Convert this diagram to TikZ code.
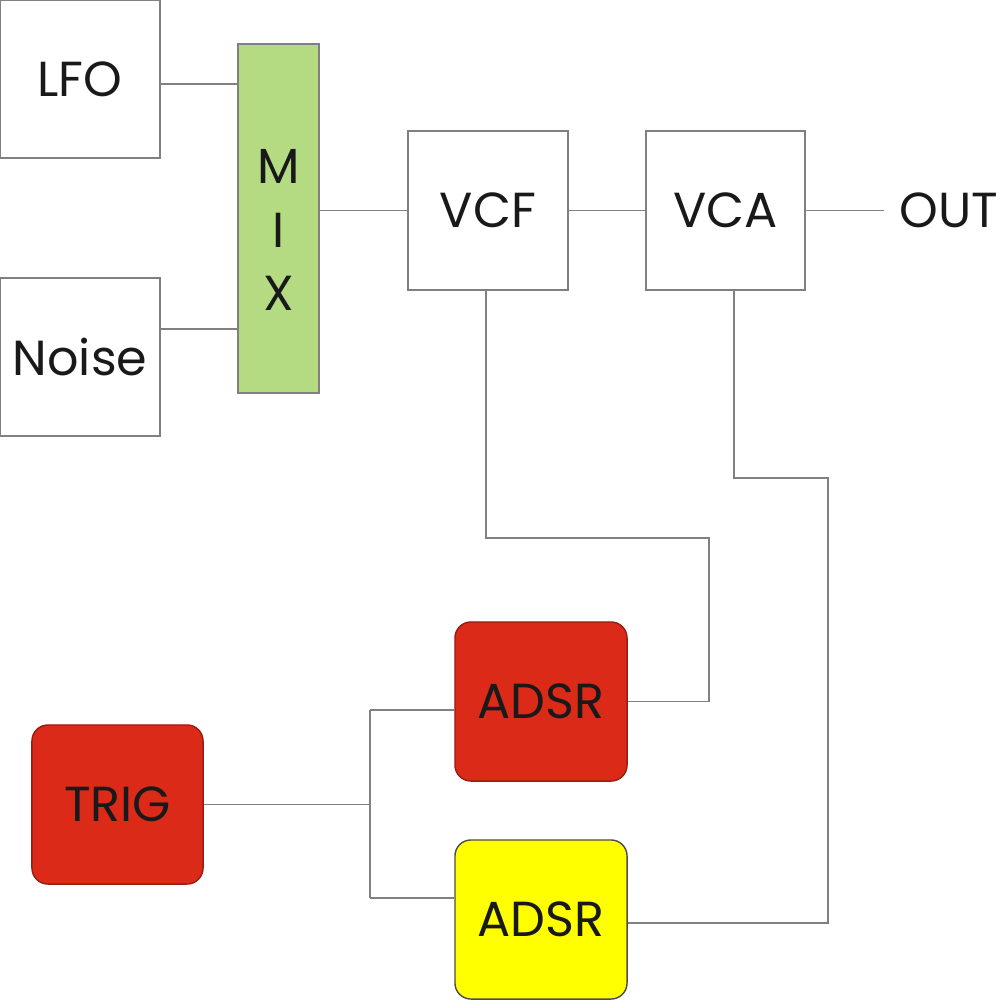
\documentclass[tikz,border=0pt]{standalone}
\usepackage{fontspec}
\setmainfont{Poppins}
\definecolor{mixgreen}{RGB}{180,219,130}
\definecolor{boxred}{RGB}{220,42,25}
\definecolor{boxyellow}{RGB}{255,255,0}
\definecolor{linegray}{RGB}{128,128,128}
\tikzset{
  lbl/.style={font=\fontsize{14}{17}\selectfont, text=black!90},
  plainbox/.style={draw=linegray, line width=0.45pt, inner sep=0pt, lbl},
  roundbox/.style={draw=boxred!70!black, line width=0.4pt, rounded corners=0.16cm, inner sep=0pt, lbl, minimum width=1.72cm, minimum height=1.59cm},
  wire/.style={draw=linegray, line width=0.45pt}
}
\begin{document}
\begin{tikzpicture}[x=0.01cm,y=-0.01cm]
\useasboundingbox (0,0) rectangle (1000,1000);
% top boxes
\node[plainbox, minimum width=1.6cm, minimum height=1.58cm] (lfo) at (80,79) {LFO};
\node[plainbox, minimum width=1.6cm, minimum height=1.58cm] (noise) at (80,357) {Noise};
\node[plainbox, fill=mixgreen, minimum width=0.81cm, minimum height=3.49cm] (mix) at (278.5,218.5) {};
\node[lbl, align=center, inner sep=0pt, font=\fontsize{14}{18}\selectfont] (mixlbl) at (279,230) {M\\[0pt]I\\[0pt]X};
\node[plainbox, minimum width=1.6cm, minimum height=1.59cm] (vcf) at (488,210.5) {VCF};
\node[plainbox, minimum width=1.59cm, minimum height=1.59cm] (vca) at (725.5,210.5) {VCA};
\coordinate (outend) at (884,210.5);
\node[lbl, anchor=east, inner sep=0pt] (out) at (999,210.5) {OUT};
% bottom boxes
\node[roundbox, fill=boxred, minimum width=1.71cm] (trig) at (117.5,804.5) {TRIG};
\node[roundbox, fill=boxred] (adsr1) at (541,701.5) {ADSR};
\node[roundbox, fill=boxyellow, draw=black!70] (adsr2) at (541,919.5) {ADSR};
% helper coordinates
\coordinate (a1) at (160,84);
\coordinate (a2) at (160,329);
\coordinate (j1) at (709,538);
\coordinate (j2) at (828,478);
\coordinate (b1) at (370,710);
\coordinate (b2) at (370,898);
% connectors
\draw[wire] (a1) -- (a1 -| mix.west);
\draw[wire] (a2) -- (a2 -| mix.west);
\draw[wire] (vcf.west) -- (vcf.west -| mix.east);
\draw[wire] (vcf.east) -- (vca.west);
\draw[wire] (vca.east) -- (outend);
\draw[wire] ([xshift=-0.02cm]vcf.south) |- (j1) |- (adsr1.east);
\draw[wire] ([xshift=0.085cm]vca.south) |- (j2) |- ([yshift=-0.035cm]adsr2.east);
\draw[wire] (trig.east) -- (trig.east -| b1);
\draw[wire] (b1) -- (b2);
\draw[wire] (b1) -- (b1 -| adsr1.west);
\draw[wire] (b2) -- (b2 -| adsr2.west);
\end{tikzpicture}
\end{document}
